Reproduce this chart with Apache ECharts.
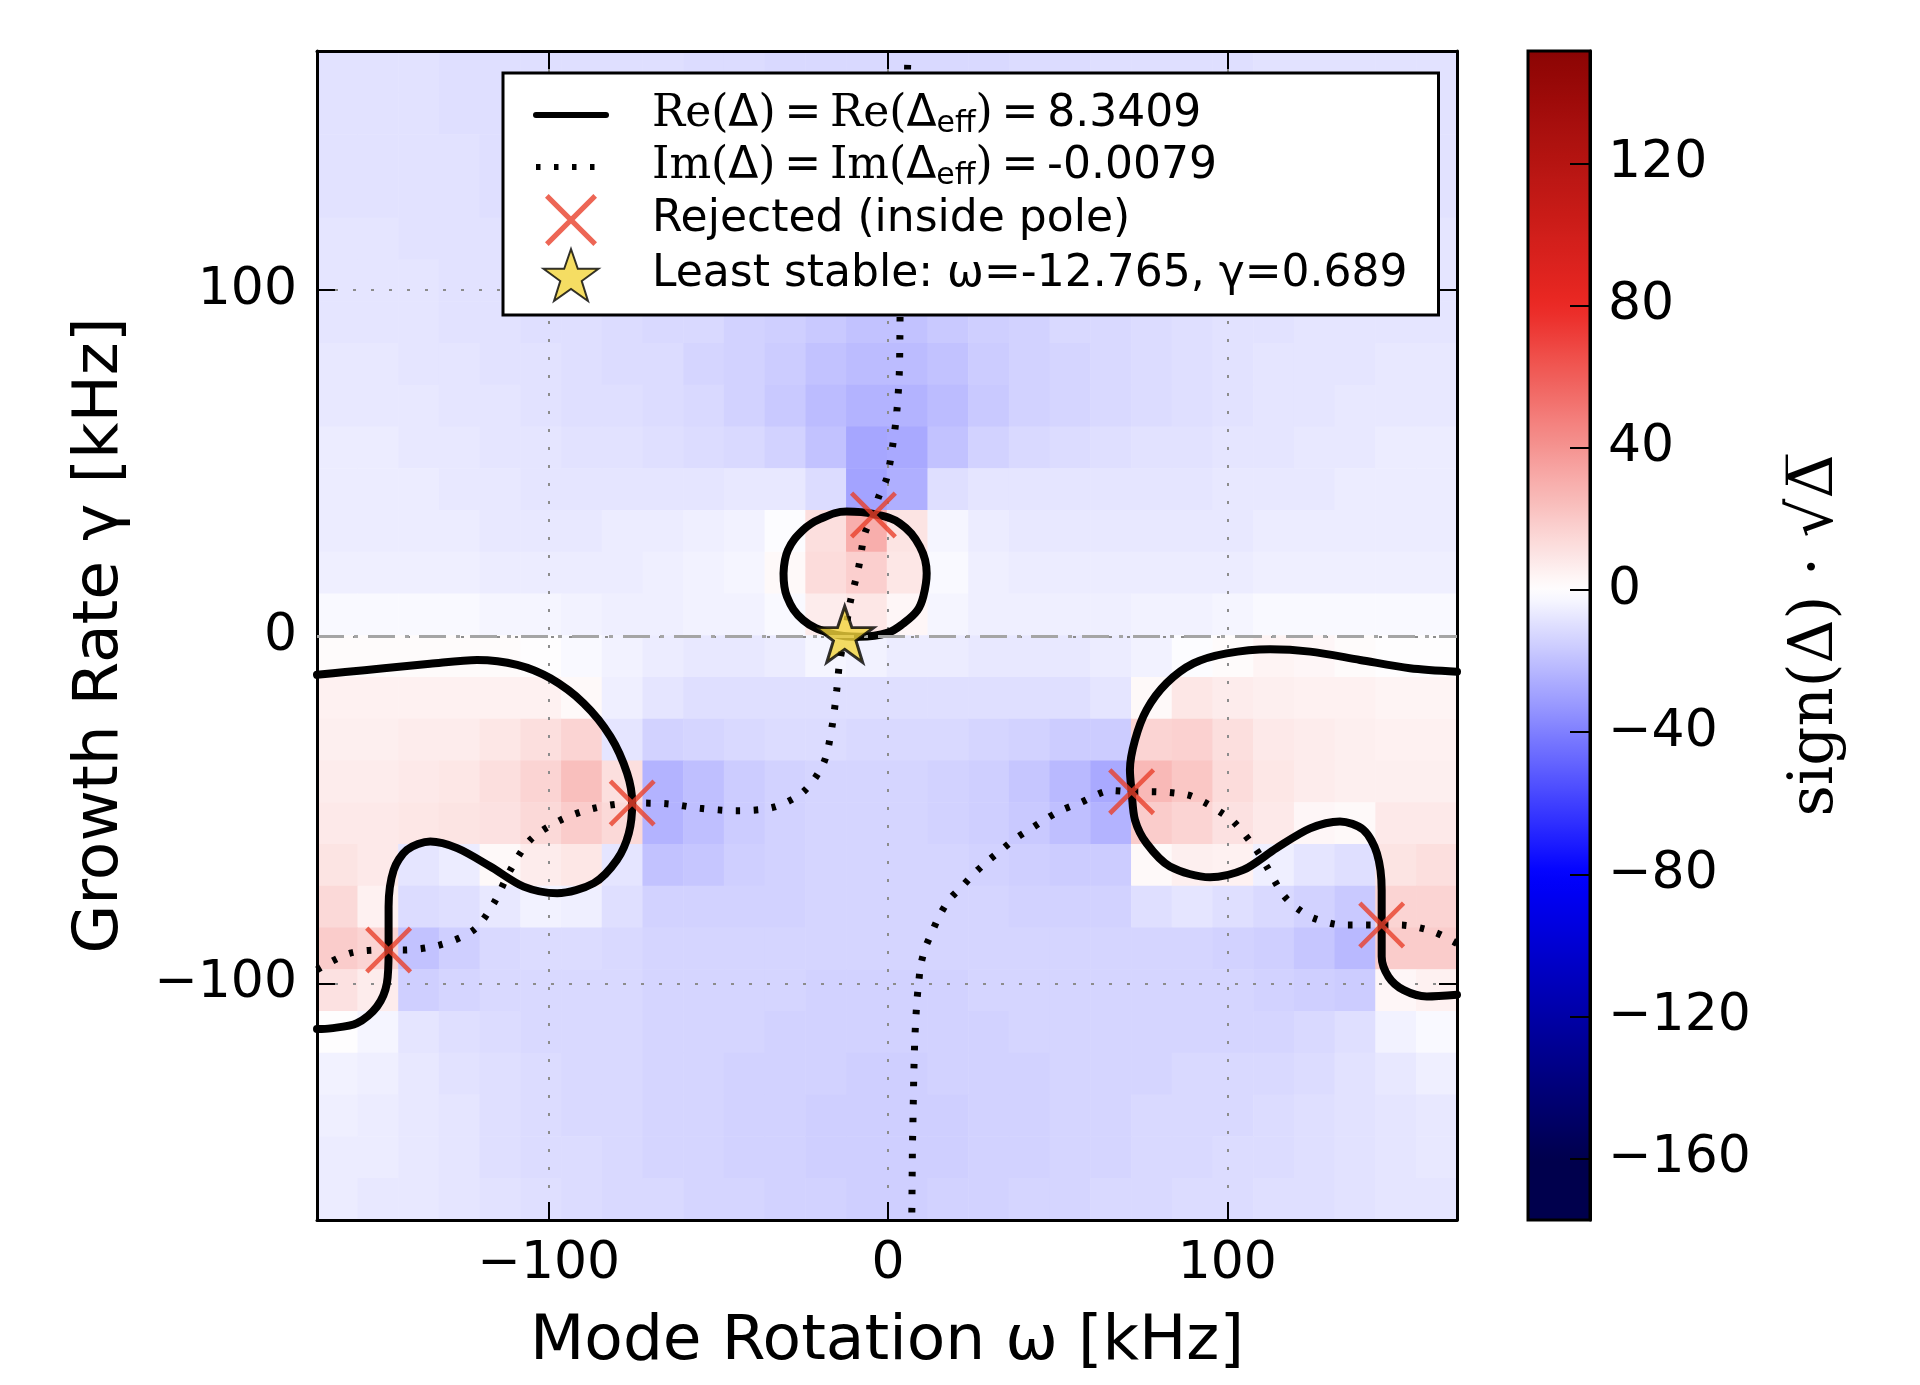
<!DOCTYPE html>
<html>
<head>
<meta charset="utf-8">
<script src="https://cdn.jsdelivr.net/npm/echarts@6/dist/echarts.min.js"></script>
<style>
html, body { margin: 0; padding: 0; background: #fff; }
#chart { width: 1920px; height: 1385px; }
</style>
</head>
<body>
<div id="chart"></div>
<script>
// cell centres of the sign(Δ)·sqrt|Δ| map, omega left->right, gamma top->bottom
var omegaCells = [-162,-150,-138,-126,-114,-102,-90,-78,-66,-54,-42,-30,-18,-6,6,18,30,42,54,66,78,90,102,114,126,138,150,162];
var gammaCells = [163,151,139,127,115,103,91,79,67,55,43,31,19,7,-5,-17,-29,-41,-53,-65,-77,-89,-101,-113,-125,-137,-149,-161];

// one row per gammaCells entry
var fieldRows = [
    [-9,-9,-9,-10,-10,-10,-10,-10,-10,-11,-11,-12,-12,-12,-12,-12,-12,-11,-11,-10,-10,-10,-10,-9,-9,-9,-9,-9],
    [-9,-9,-9,-10,-10,-10,-10,-10,-11,-11,-12,-12,-13,-13,-13,-13,-12,-12,-11,-10,-10,-10,-10,-9,-9,-9,-9,-9],
    [-9,-9,-9,-9,-10,-10,-10,-10,-11,-11,-12,-13,-14,-14,-14,-14,-13,-12,-11,-11,-10,-10,-9,-9,-9,-9,-9,-9],
    [-9,-9,-9,-9,-10,-10,-10,-11,-11,-12,-12,-13,-14,-15,-15,-14,-13,-12,-12,-11,-10,-10,-9,-9,-9,-9,-9,-9],
    [-8,-8,-9,-9,-9,-10,-10,-11,-11,-12,-13,-14,-15,-16,-16,-15,-14,-13,-12,-11,-10,-10,-9,-9,-9,-8,-8,-8],
    [-8,-8,-8,-9,-9,-10,-10,-11,-12,-12,-13,-15,-16,-17,-17,-16,-15,-13,-12,-12,-11,-10,-9,-9,-8,-8,-8,-8],
    [-8,-8,-8,-9,-9,-10,-10,-11,-12,-12,-14,-15,-17,-19,-19,-17,-15,-14,-12,-12,-11,-10,-9,-9,-8,-8,-8,-8],
    [-7,-7,-8,-8,-9,-9,-10,-11,-11,-13,-14,-16,-19,-21,-21,-19,-16,-14,-13,-12,-11,-10,-9,-8,-8,-8,-7,-7],
    [-7,-7,-7,-8,-8,-9,-10,-10,-11,-12,-14,-17,-21,-24,-24,-21,-17,-14,-13,-12,-11,-10,-9,-8,-8,-7,-7,-7],
    [-6,-6,-7,-7,-8,-8,-9,-9,-10,-11,-12,-14,-19,-28,-27,-19,-14,-12,-11,-10,-9,-9,-8,-8,-7,-7,-6,-6],
    [-6,-6,-6,-7,-7,-8,-8,-8,-8,-8,-7,-7,-11,-29,-25,-10,-8,-8,-8,-8,-8,-8,-7,-7,-7,-6,-6,-6],
    [-6,-6,-6,-6,-7,-7,-7,-6,-6,-5,-4,-1,12,30,10,-3,-6,-7,-7,-7,-7,-7,-7,-6,-6,-6,-6,-6],
    [-5,-5,-5,-5,-6,-6,-6,-6,-5,-4,-3,2,13,18,9,-2,-5,-6,-6,-6,-6,-6,-6,-5,-5,-5,-5,-5],
    [-2,-2,-2,-2,-3,-3,-4,-5,-5,-4,-4,-2,7,9,3,-3,-5,-5,-5,-5,-4,-4,-3,-2,-2,-2,-2,-2],
    [1,1,1,1,1,0,-2,-4,-6,-7,-7,-6,-3,-4,-6,-6,-7,-7,-7,-6,-4,-1,1,4,3,1,0,0],
    [5,5,5,5,5,5,2,-5,-8,-10,-10,-10,-10,-10,-10,-10,-10,-10,-10,-8,2,9,7,6,5,5,4,4],
    [6,6,7,7,9,12,16,-8,-14,-13,-12,-11,-11,-12,-12,-12,-13,-14,-16,-16,16,17,12,8,7,6,5,5],
    [7,7,8,9,12,16,24,12,-24,-20,-16,-14,-13,-13,-13,-14,-15,-18,-22,-27,26,21,13,9,7,6,6,6],
    [8,8,9,10,11,14,19,14,-24,-20,-16,-14,-13,-13,-13,-14,-15,-17,-20,-24,19,16,11,8,3,2,8,8],
    [10,8,-8,-6,2,7,9,-8,-19,-18,-15,-14,-13,-13,-13,-13,-14,-15,-16,-16,2,6,5,-5,-8,-10,10,12],
    [14,5,-11,-10,-7,-4,-5,-10,-14,-14,-14,-14,-13,-13,-13,-13,-13,-14,-14,-14,-10,-8,-10,-12,-14,-17,16,16],
    [19,16,-19,-15,-12,-11,-11,-12,-13,-13,-13,-13,-13,-13,-13,-13,-13,-13,-13,-13,-13,-13,-14,-15,-18,-22,19,19],
    [11,7,-15,-13,-12,-12,-12,-12,-13,-13,-13,-13,-14,-14,-14,-14,-13,-13,-13,-13,-13,-13,-13,-14,-15,-16,3,5],
    [0,-3,-8,-10,-11,-12,-12,-12,-13,-13,-13,-14,-14,-14,-14,-14,-14,-13,-13,-13,-13,-13,-13,-13,-12,-10,-4,-2],
    [-4,-5,-7,-9,-10,-11,-12,-12,-13,-13,-14,-14,-14,-15,-15,-14,-14,-14,-13,-13,-13,-12,-12,-12,-11,-9,-7,-5],
    [-5,-6,-7,-8,-10,-11,-12,-12,-13,-13,-14,-14,-15,-15,-15,-15,-14,-14,-13,-13,-12,-12,-12,-11,-10,-9,-8,-7],
    [-6,-6,-7,-8,-10,-11,-11,-12,-13,-13,-14,-14,-15,-15,-15,-15,-14,-14,-13,-13,-12,-12,-11,-11,-10,-9,-8,-7],
    [-6,-7,-7,-8,-9,-10,-11,-12,-12,-13,-13,-14,-14,-15,-15,-14,-14,-13,-13,-12,-12,-11,-11,-10,-10,-9,-8,-8]
];

// Re(Δ) = Re(Δeff) contour pieces [omega, gamma]
var reLeft = [[-168.3,-11.0],[-160,-10.2],[-148.6,-9.1],[-135,-7.8],[-121.1,-6.7],[-109.3,-8.1],[-99.5,-12.0],[-89.7,-19.2],[-81.8,-28.8],[-76.9,-39.4],[-75.4,-48.0],[-76.4,-56.7],[-79.9,-64.4],[-86.7,-71.1],[-97.5,-74.0],[-107.4,-72.1],[-117.2,-66.3],[-127.0,-61.0],[-134.9,-59.1],[-141.8,-61.5],[-145.7,-67.3],[-147.2,-77.9],[-147.2,-90.4],[-147.7,-100],[-150.6,-106.7],[-156.5,-111.5],[-164.3,-113.0],[-168.3,-113.2]];
var reRight = [[167.7,-10.1],[153.8,-9.1],[139.1,-6.7],[124.4,-4.3],[112.6,-3.6],[99.8,-4.8],[90.0,-7.7],[82.1,-13.4],[76.2,-21.1],[72.8,-29.8],[71.3,-38.4],[71.8,-44.7],[72.8,-52.9],[76.2,-59.6],[83.1,-66.3],[94.9,-69.4],[104.7,-67.3],[114.5,-61.0],[124.4,-55.3],[133.2,-53.3],[140.1,-55.7],[144.1,-62.5],[145.5,-73.1],[145.5,-83.2],[145.5,-92.3],[147.5,-98.1],[151.9,-101.9],[158.8,-103.8],[167.7,-103.3]];
var reLoop = [[-30.8,18.3],[-29.8,11.6],[-25.0,4.8],[-17.0,1.0],[-8.3,0.0],[0.0,1.2],[4.6,3.9],[8.6,7.5],[10.4,11.6],[11.4,18.3],[9.4,26.0],[3.5,32.7],[-4.3,35.4],[-12.2,36.1],[-20.0,34.0],[-25.0,30.8],[-29.5,25.0],[-30.8,18.3]];

// Im(Δ) = Im(Δeff) contour pieces
var imLeft = [[-168.3,-96.1],[-158.5,-91.3],[-147.2,-90.4],[-142.8,-90.4],[-132,-88.9],[-122.1,-84.6],[-116.2,-76.9],[-111.3,-67.3],[-105.4,-58.6],[-96.5,-52.9],[-86.7,-49.5],[-75.4,-48.0],[-65.2,-48.2],[-55.4,-49.5],[-44.6,-50.2],[-33.7,-49.2],[-24.9,-44.7],[-19.0,-36.5],[-16.5,-25.9],[-15.1,-15.3],[-14.3,-7.7],[-12.7,0.7],[-11.2,9.7],[-8.7,19.8],[-6.8,29.9],[-4.3,35.1],[-2.9,40],[-0.4,45.7],[1.4,55.3],[2.6,65],[3.3,75.5],[3.5,86.2],[3.6,96.2],[4.3,120],[5.2,145],[5.9,169]];
var imRight = [[167.7,-88.5],[160.7,-85.1],[150.9,-83.2],[145.5,-83.2],[134.2,-83.2],[125.4,-81.2],[120.5,-78.3],[116.5,-74.5],[111.6,-66.3],[108.2,-61.0],[101.8,-53.3],[97.8,-50.5],[92.9,-47.6],[88.0,-45.6],[77.2,-44.7],[71.8,-44.7],[65.8,-44.4],[56.4,-48.0],[51.0,-50.1],[46.5,-52.6],[42.1,-55.4],[37.6,-58.2],[33.7,-61.3],[29.2,-64.9],[25.2,-68.5],[21.8,-72.1],[18.3,-75.6],[15.3,-80.2],[12.9,-85.4],[10.9,-90.0],[9.6,-95.1],[9.0,-100.2],[8.5,-105.3],[7.9,-116.1],[7.6,-126.3],[7.4,-137.1],[7.2,-147.3],[7.1,-157.5],[7.0,-168.3]];

var rejectedPoles = [[-147.2,-90.4],[-75.4,-48.0],[-4.3,35.1],[71.8,-44.7],[145.5,-83.2]];
var leastStable = [[-12.765, 0.689]];

var xTicks = [-100, 0, 100];
var yTicks = [-100, 0, 100];
var cbarTicks = [-160, -120, -80, -40, 0, 40, 80, 120];

var X_MIN = -168.3, X_MAX = 167.7, Y_MIN = -168.3, Y_MAX = 169.0;
var CB_MIN = -177.2, CB_MAX = 151.6;

var NAME_RE = 'Re(Δ) = Re(Δeff) = 8.3409';
var NAME_IM = 'Im(Δ) = Im(Δeff) = -0.0079';
var NAME_REJ = 'Rejected (inside pole)';
var NAME_STAR = 'Least stable: ω=-12.765, γ=0.689';

// seismic-like colour ramp, white at zero
var seismicStops = [[-160,[0,0,77]],[-80,[0,0,255]],[0,[255,255,255]],[80,[235,40,35]],[160,[128,0,0]]];
function seismic(v) {
    if (v <= seismicStops[0][0]) return 'rgb(' + seismicStops[0][1].join(',') + ')';
    for (var i = 1; i < seismicStops.length; i++) {
        var a = seismicStops[i - 1], b = seismicStops[i];
        if (v <= b[0]) {
            var t = (v - a[0]) / (b[0] - a[0]);
            var c = a[1].map(function(ch, k) { return Math.round(ch + (b[1][k] - ch) * t); });
            return 'rgb(' + c.join(',') + ')';
        }
    }
    return 'rgb(' + seismicStops[seismicStops.length - 1][1].join(',') + ')';
}
var cbarColors = [];
for (var k = 0; k <= 80; k++) {
    cbarColors.push(seismic(CB_MIN + (CB_MAX - CB_MIN) * k / 80));
}

var heatData = [];
fieldRows.forEach(function(row, r) {
    row.forEach(function(v, c) {
        heatData.push([c, fieldRows.length - 1 - r, v]);
    });
});

function fmtMinus(v) {
    return String(v).replace('-', '\u2212');
}

var SANS = 'DejaVu Sans';
var SERIF = 'DejaVu Serif';
var X_PATH = 'path://M0,7L7,0L100,93L93,100Z M93,0L100,7L7,100L0,93Z';
var STAR_PATH = 'path://M50,2L61.8,36.2L97.6,36.2L68.6,57.5L79.4,92L50,71L20.6,92L31.4,57.5L2.4,36.2L38.2,36.2Z';
var EQ = '\u2009=\u2009';

var myChart = echarts.init(document.getElementById('chart'));

var baseValueAxis = {
    type: 'value',
    z: 1,
    axisLine: { show: true, onZero: false, lineStyle: { color: '#000', width: 3 } },
    axisTick: { show: true, inside: true, length: 18, lineStyle: { color: '#000', width: 2 } },
    splitLine: { show: false },
    axisLabel: { show: false }
};

var option = {
    backgroundColor: '#fff',
    animation: false,
    textStyle: { fontFamily: SANS },
    grid: [
        { left: 317, top: 51, width: 1140, height: 1169, show: false },
        { left: 317, top: 51, width: 1140, height: 1169, show: false },
        { left: 1528, top: 51, width: 62, height: 1169, show: true, borderColor: '#000', borderWidth: 3, backgroundColor: 'transparent', z: 6 }
    ],
    xAxis: [
        { gridIndex: 0, type: 'category', data: omegaCells.map(String), show: false },
        echarts.util.merge({
            gridIndex: 1, min: X_MIN, max: X_MAX, position: 'bottom',
            axisTick: { customValues: xTicks },
            axisLabel: { show: true, customValues: xTicks, formatter: fmtMinus, fontSize: 52, color: '#000', fontFamily: SANS, margin: 18 },
            splitLine: { show: true, lineStyle: { color: '#8c8c8c', width: 2, type: [3, 15] } },
            name: 'Mode Rotation ω [kHz]', nameLocation: 'middle', nameGap: 91,
            nameTextStyle: { fontSize: 63, color: '#000', fontFamily: SANS }
        }, baseValueAxis),
        echarts.util.merge({
            gridIndex: 1, min: X_MIN, max: X_MAX, position: 'top',
            axisTick: { customValues: xTicks }
        }, baseValueAxis),
        { gridIndex: 2, type: 'value', min: 0, max: 1, show: false }
    ],
    yAxis: [
        { gridIndex: 0, type: 'category', data: gammaCells.slice().reverse().map(String), show: false },
        echarts.util.merge({
            gridIndex: 1, min: Y_MIN, max: Y_MAX, position: 'left',
            axisTick: { customValues: yTicks },
            axisLabel: { show: true, customValues: yTicks, formatter: fmtMinus, fontSize: 52, color: '#000', fontFamily: SANS, margin: 20 },
            splitLine: { show: true, lineStyle: { color: '#8c8c8c', width: 2, type: [3, 15] } },
            name: 'Growth Rate γ [kHz]', nameLocation: 'middle', nameGap: 185,
            nameTextStyle: { fontSize: 63, color: '#000', fontFamily: SANS }
        }, baseValueAxis),
        echarts.util.merge({
            gridIndex: 1, min: Y_MIN, max: Y_MAX, position: 'right',
            axisTick: { customValues: yTicks }
        }, baseValueAxis),
        {
            gridIndex: 2, type: 'value', min: CB_MIN, max: CB_MAX, position: 'right', z: 7,
            axisLine: { show: true, onZero: false, lineStyle: { color: '#000', width: 3 } },
            axisTick: { show: true, inside: true, length: 20, customValues: cbarTicks, lineStyle: { color: '#000', width: 2 } },
            axisLabel: { customValues: cbarTicks, formatter: fmtMinus, fontSize: 52, color: '#000', fontFamily: SANS, margin: 18 },
            splitLine: { show: false },
            name: 'sign(Δ) · √Δ\u0305', nameLocation: 'middle', nameRotate: 90, nameGap: 196,
            nameTextStyle: { fontSize: 61, color: '#000', fontFamily: SERIF }
        }
    ],
    visualMap: {
        type: 'continuous',
        seriesIndex: 0,
        min: CB_MIN,
        max: CB_MAX,
        calculable: false,
        hoverLink: false,
        left: 1528,
        top: 51,
        padding: 0,
        itemWidth: 62,
        itemHeight: 1169,
        inRange: { color: cbarColors },
        z: 4
    },
    legend: {
        orient: 'vertical',
        left: 503,
        top: 73,
        padding: [17, 31, 13, 30],
        itemWidth: 70,
        itemHeight: 52,
        itemGap: 2,
        backgroundColor: '#fff',
        borderColor: '#000',
        borderWidth: 3,
        borderRadius: 0,
        z: 10,
        selectedMode: false,
        data: [
            { name: NAME_RE, itemStyle: { opacity: 0 }, lineStyle: { width: 6 } },
            { name: NAME_IM, itemStyle: { opacity: 0 }, lineStyle: { width: 6 } },
            { name: NAME_REJ },
            { name: NAME_STAR }
        ],
        textStyle: {
            fontFamily: SANS,
            fontSize: 44,
            lineHeight: 50,
            color: '#000',
            rich: {
                gap: { width: 41 },
                s: { fontFamily: SERIF, fontSize: 44 },
                sub: { fontSize: 30, lineHeight: 30, padding: [18, 0, 0, 0] }
            }
        },
        formatter: function(name) {
            if (name === NAME_RE) return '{gap| }{s|Re(}Δ{s|)}' + EQ + '{s|Re(}Δ{sub|eff}{s|)}' + EQ + '8.3409';
            if (name === NAME_IM) return '{gap| }{s|Im(}Δ{s|)}' + EQ + '{s|Im(}Δ{sub|eff}{s|)}' + EQ + '-0.0079';
            return '{gap| }' + name;
        }
    },
    series: [
        {
            type: 'heatmap',
            xAxisIndex: 0,
            yAxisIndex: 0,
            data: heatData,
            z: 0,
            silent: true,
            emphasis: { disabled: true }
        },
        {
            name: NAME_RE, type: 'line', xAxisIndex: 1, yAxisIndex: 1,
            data: reLeft, smooth: 0.3, symbol: 'none', silent: true,
            lineStyle: { color: '#000', width: 8, cap: 'round', join: 'round' },
            itemStyle: { color: '#000' },
            markLine: {
                silent: true, symbol: ['none', 'none'], label: { show: false },
                lineStyle: { color: '#a5a5a5', width: 3, type: [27, 10, 4, 10] },
                data: [{ yAxis: 0 }]
            }
        },
        {
            name: NAME_RE, type: 'line', xAxisIndex: 1, yAxisIndex: 1,
            data: reRight, smooth: 0.3, symbol: 'none', silent: true,
            lineStyle: { color: '#000', width: 8, cap: 'round', join: 'round' },
            itemStyle: { color: '#000' }
        },
        {
            name: NAME_RE, type: 'line', xAxisIndex: 1, yAxisIndex: 1,
            data: reLoop, smooth: 0.4, symbol: 'none', silent: true,
            lineStyle: { color: '#000', width: 8, cap: 'round', join: 'round' },
            itemStyle: { color: '#000' }
        },
        {
            name: NAME_IM, type: 'line', xAxisIndex: 1, yAxisIndex: 1,
            data: imLeft, smooth: 0.3, symbol: 'none', silent: true,
            lineStyle: { color: '#000', width: 7, type: [4.5, 13.5], cap: 'butt' },
            itemStyle: { color: '#000' }
        },
        {
            name: NAME_IM, type: 'line', xAxisIndex: 1, yAxisIndex: 1,
            data: imRight, smooth: 0.3, symbol: 'none', silent: true,
            lineStyle: { color: '#000', width: 7, type: [4.5, 13.5], cap: 'butt' },
            itemStyle: { color: '#000' }
        },
        {
            name: NAME_REJ, type: 'scatter', xAxisIndex: 1, yAxisIndex: 1,
            data: rejectedPoles, silent: true,
            symbol: X_PATH,
            symbolSize: 47,
            itemStyle: { color: '#e8402b' },
            z: 5
        },
        {
            name: NAME_STAR, type: 'scatter', xAxisIndex: 1, yAxisIndex: 1,
            data: leastStable, silent: true,
            symbol: STAR_PATH,
            symbolSize: [58, 56],
            itemStyle: { color: '#f3d43c', borderColor: '#000', borderWidth: 3 },
            z: 6
        }
    ]
};

myChart.setOption(option);
</script>
</body>
</html>
